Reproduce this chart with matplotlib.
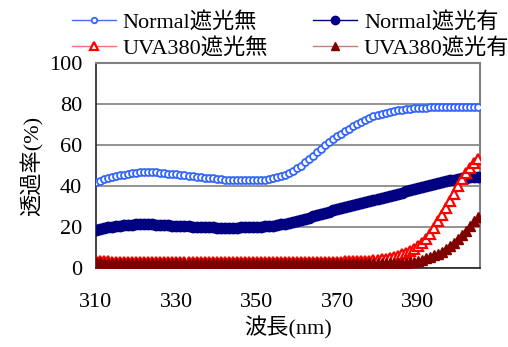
import matplotlib
matplotlib.use('Agg')
import matplotlib.pyplot as plt
import numpy as np

plt.rcParams['font.family'] = ['Liberation Serif', 'Noto Sans CJK JP']

# 波長 310..405 nm, 1 nm刻み
wl = list(range(310, 406))

normal_open = [41.8, 42.5, 43.2, 43.8, 44.3, 44.8, 45.2, 45.6, 45.9, 46.2,
               46.4, 46.6, 46.7, 46.7, 46.7, 46.6, 46.5, 46.3, 46.1, 45.9,
               45.7, 45.5, 45.3, 45.0, 44.8, 44.6, 44.3, 44.1, 43.9, 43.7,
               43.5, 43.3, 43.1, 43.0, 42.9, 42.8, 42.7, 42.7, 42.7, 42.7,
               42.8, 42.9, 43.1, 43.4, 43.8, 44.3, 44.9, 45.6, 46.5, 47.5,
               48.7, 50.0, 51.5, 53.1, 54.8, 56.5, 58.2, 59.8, 61.3, 62.8,
               64.2, 65.5, 66.8, 68.0, 69.2, 70.3, 71.3, 72.3, 73.2, 74.0,
               74.7, 75.3, 75.8, 76.3, 76.7, 77.0, 77.3, 77.6, 77.8, 78.0,
               78.1, 78.2, 78.3, 78.4, 78.5, 78.5, 78.6, 78.6, 78.7, 78.7,
               78.7, 78.8, 78.8, 78.8, 78.8, 78.8]

normal_shade = [18.5, 19.0, 19.4, 19.8, 20.1, 20.4, 20.6, 20.8, 21.0, 21.1,
                21.2, 21.3, 21.3, 21.3, 21.2, 21.1, 21.0, 20.9, 20.8, 20.7,
                20.6, 20.5, 20.4, 20.3, 20.2, 20.1, 20.0, 19.9, 19.8, 19.8,
                19.7, 19.7, 19.7, 19.7, 19.7, 19.7, 19.8, 19.8, 19.9, 20.0,
                20.1, 20.2, 20.3, 20.5, 20.7, 21.0, 21.3, 21.6, 22.0, 22.4,
                22.9, 23.4, 23.9, 24.5, 25.1, 25.7, 26.3, 26.9, 27.5, 28.1,
                28.7, 29.3, 29.8, 30.3, 30.8, 31.3, 31.8, 32.3, 32.8, 33.3,
                33.8, 34.3, 34.8, 35.3, 35.8, 36.3, 36.8, 37.4, 38.0, 38.6,
                39.2, 39.7, 40.2, 40.7, 41.2, 41.6, 42.0, 42.4, 42.8, 43.1,
                43.4, 43.7, 44.0, 44.2, 44.4, 44.6]

uva_open = [3.6, 3.4, 3.3, 3.2, 3.1, 3.1, 3.0, 3.0, 3.0, 3.0,
            3.0, 3.0, 3.0, 3.0, 3.0, 3.0, 3.0, 3.0, 3.0, 3.0,
            3.0, 3.0, 3.0, 3.0, 3.0, 3.0, 3.0, 3.0, 3.0, 3.0,
            3.0, 3.0, 3.0, 3.0, 3.0, 3.0, 3.0, 3.0, 3.0, 3.0,
            3.0, 3.0, 3.0, 3.0, 3.0, 3.0, 3.0, 3.0, 3.0, 3.0,
            3.0, 3.0, 3.0, 3.0, 3.0, 3.0, 3.0, 3.0, 3.0, 3.0,
            3.1, 3.1, 3.2, 3.2, 3.3, 3.3, 3.4, 3.5, 3.6, 3.7,
            3.9, 4.1, 4.4, 4.8, 5.3, 5.9, 6.6, 7.4, 8.3, 9.3,
            10.5, 12.0, 14.0, 16.5, 19.5, 22.7, 26.0, 29.3, 32.7, 36.3,
            40.0, 43.5, 46.5, 49.0, 51.2, 53.0]

uva_shade = [2.8, 2.7, 2.6, 2.6, 2.5, 2.5, 2.5, 2.5, 2.5, 2.5,
             2.5, 2.5, 2.5, 2.5, 2.5, 2.5, 2.5, 2.5, 2.5, 2.5,
             2.5, 2.5, 2.5, 2.5, 2.5, 2.5, 2.5, 2.5, 2.5, 2.5,
             2.5, 2.5, 2.5, 2.5, 2.5, 2.5, 2.5, 2.5, 2.5, 2.5,
             2.5, 2.5, 2.5, 2.5, 2.5, 2.5, 2.5, 2.5, 2.5, 2.5,
             2.5, 2.5, 2.5, 2.5, 2.5, 2.5, 2.5, 2.5, 2.5, 2.5,
             2.5, 2.5, 2.5, 2.5, 2.5, 2.5, 2.5, 2.5, 2.5, 2.5,
             2.5, 2.5, 2.5, 2.5, 2.5, 2.5, 2.5, 2.6, 2.8, 3.1,
             3.5, 4.0, 4.6, 5.3, 6.1, 7.0, 8.0, 9.2, 10.6, 12.2,
             14.0, 16.0, 18.0, 20.5, 22.8, 25.0]

xticks = [310, 330, 350, 370, 390]

fig = plt.figure(figsize=(5.08, 3.47), dpi=100)
ax = fig.add_axes([0.189, 0.228, 0.756, 0.59])

l1, = ax.plot(wl, normal_open, '-o', color='#3F6FFF', mfc='white', mec='#3366FF',
              mew=1.3, ms=5, lw=1, label='Normal遮光無', zorder=3)
l2, = ax.plot(wl, normal_shade, '-o', color='#000080', mfc='#000080', mec='#000080',
              ms=7.5, lw=1, label='Normal遮光有', zorder=4)
l3, = ax.plot(wl, uva_open, '-^', color='#FF7070', mfc='white', mec='#FF0000',
              mew=1.6, ms=6.5, lw=1, label='UVA380遮光無', zorder=5)
l4, = ax.plot(wl, uva_shade, '-^', color='#C08080', mfc='#800000', mec='#800000',
              ms=7.5, lw=1, label='UVA380遮光有', zorder=6)

ax.set_xlim(310, 405.5)
ax.set_ylim(0, 100)
ax.set_xticks(xticks)
ax.set_yticks(range(0, 101, 20))
ax.tick_params(length=0, labelsize=16, pad=10)
ax.tick_params(axis='x', pad=18)
ax.grid(axis='y', color='#808080', lw=1.2)
for s in ['top', 'right']:
    ax.spines[s].set_color('#808080')
    ax.spines[s].set_linewidth(1.5)
for s in ['left', 'bottom']:
    ax.spines[s].set_color('#222222')
    ax.spines[s].set_linewidth(1.2)

ax.set_xlabel('波長(nm)', fontsize=16, labelpad=3)
ax.set_ylabel('透過率(%)', fontsize=16, labelpad=4)

# 行ごとに並べる（matplotlibは列ごとに埋めるので順番を入れ替え）
fig.legend([l1, l3, l2, l4], [l1.get_label(), l3.get_label(), l2.get_label(), l4.get_label()],
           loc='upper left', bbox_to_anchor=(0.115, 1.005), ncol=2, frameon=False,
           fontsize=16, handlelength=2.0, columnspacing=2.0, borderpad=0.1,
           labelspacing=0.25, handletextpad=0.3, markerscale=0.8)

fig.savefig('out.png', dpi=100)
